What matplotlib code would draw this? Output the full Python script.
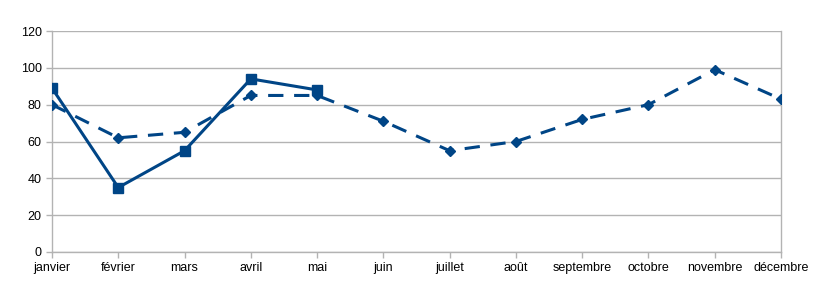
import matplotlib
matplotlib.use("Agg")
import matplotlib.pyplot as plt

months = ["janvier", "février", "mars", "avril", "mai", "juin", "juillet",
          "août", "septembre", "octobre", "novembre", "décembre"]
series_solid = [89, 35, 55, 94, 88]
series_dashed = [80, 62, 65, 85, 85, 71, 55, 60, 72, 80, 99, 83]
yticks = [0, 20, 40, 60, 80, 100, 120]

plt.rcParams['font.family'] = ['Liberation Sans', 'DejaVu Sans']
fig = plt.figure(figsize=(8.36, 2.89), dpi=100)
ax = fig.add_axes([52/836, 1-252/289, (781-52)/836, (252-31)/289])

color = "#004586"
x_all = list(range(len(months)))
ax.plot(x_all, series_dashed, color=color, lw=2.2, linestyle=(0, (5, 3.5)),
        marker="D", markersize=5, zorder=3)
ax.plot(x_all[:len(series_solid)], series_solid, color=color, lw=2.2,
        marker="s", markersize=7, zorder=4)

ax.set_xlim(0, len(months) - 1)
ax.set_ylim(0, 120)
ax.set_yticks(yticks)
ax.set_xticks(x_all)
ax.set_xticklabels(months)
ax.grid(axis="y", color="#b3b3b3", lw=1)
ax.set_axisbelow(True)
for s in ["top"]:
    ax.spines[s].set_visible(False)
for s in ["left", "bottom", "right"]:
    ax.spines[s].set_color("#b3b3b3")
    ax.spines[s].set_linewidth(1)
ax.tick_params(axis="both", colors="#b3b3b3", labelcolor="black", labelsize=9,
               length=4, width=1)
for lbl in ax.get_xticklabels() + ax.get_yticklabels():
    lbl.set_clip_on(False)
fig.savefig("out.png", dpi=100)
